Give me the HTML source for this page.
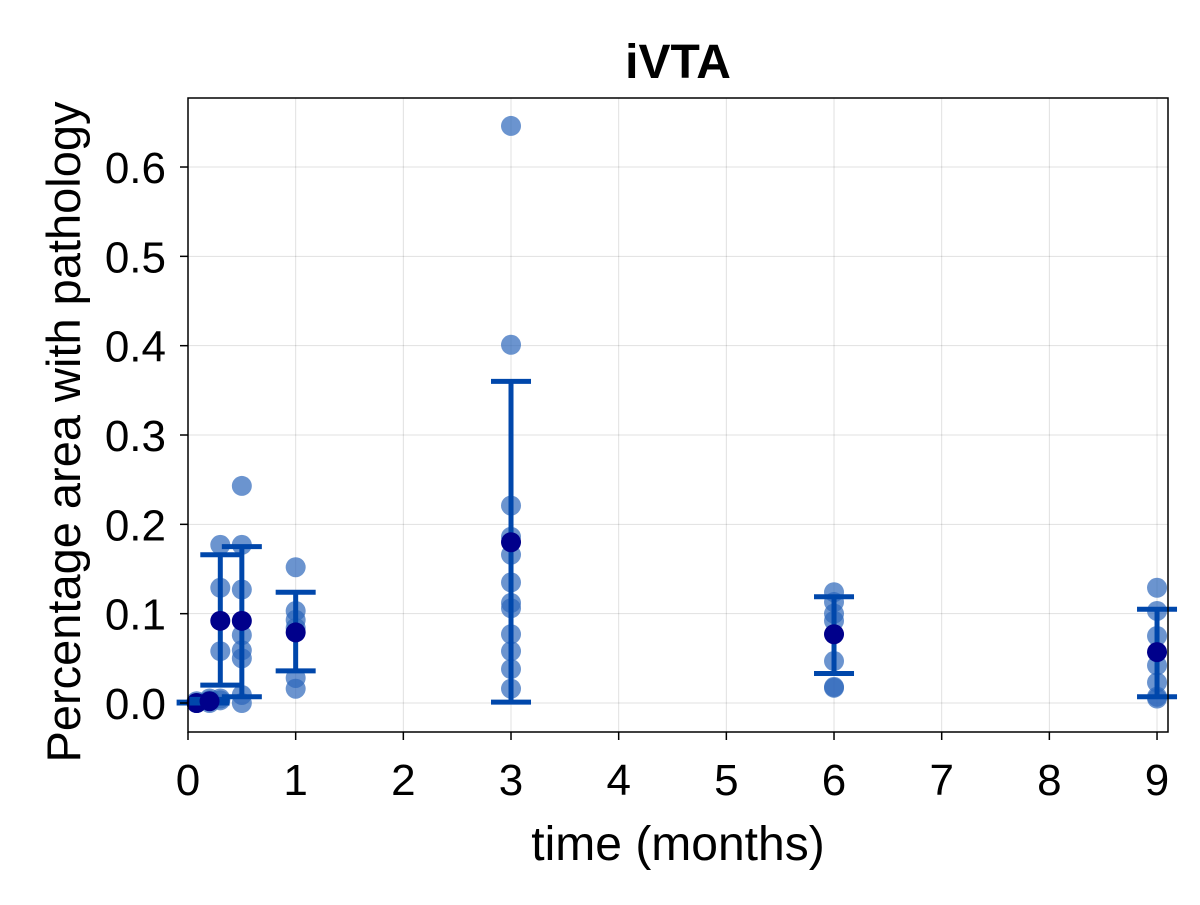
<!DOCTYPE html>
<html><head><meta charset="utf-8"><style>
html,body{margin:0;padding:0;background:#fff}
svg text{font-family:"Liberation Sans",sans-serif}
</style></head><body>
<svg id="chart" width="1200" height="900">
<rect x="0" y="0" width="1200" height="900" fill="#fff"/>
<g id="grid"></g><g id="marks"></g><g id="axes"></g>
<text x="678" y="78" text-anchor="middle" font-size="48" font-weight="bold">iVTA</text>
<text x="678" y="860" text-anchor="middle" font-size="48">time (months)</text>
<text transform="translate(80,432) rotate(-90)" text-anchor="middle" font-size="47">Percentage area with pathology</text>
</svg>
<script>
const times=[0.08,0.2,0.3,0.5,1,3,6,9];
const points=[
[0,0,0.002],
[0,0.003,0.005],
[0.177,0.129,0.058,0.003,0.005],
[0.243,0.177,0.127,0.076,0.059,0.05,0.009,0],
[0.152,0.103,0.093,0.084,0.028,0.016],
[0.646,0.401,0.221,0.186,0.166,0.135,0.112,0.106,0.077,0.058,0.038,0.016],
[0.124,0.113,0.1,0.092,0.047,0.018,0.017],
[0.129,0.103,0.075,0.042,0.023,0.007,0.005]];
const means=[0,0.002,0.092,0.092,0.079,0.18,0.077,0.057];
const errHi=[0.001,0.004,0.166,0.175,0.124,0.36,0.119,0.105];
const errLo=[0,0,0.020,0.007,0.036,0.001,0.033,0.007];
const xTicks=[0,1,2,3,4,5,6,7,8,9];
const yTicks=[0,0.1,0.2,0.3,0.4,0.5,0.6];
const L=188,R=1168,T=98,B=732;
const X=v=>188+v*107.67, Y=v=>703-v*893.3;
const NS="http://www.w3.org/2000/svg";
function mk(parent,tag,attrs){const e=document.createElementNS(NS,tag);for(const k in attrs)e.setAttribute(k,attrs[k]);document.getElementById(parent).appendChild(e);return e;}
xTicks.forEach(t=>{
 let g=mk('grid','line',{x1:X(t),x2:X(t),y1:T,y2:B,stroke:'#000','stroke-opacity':0.12,'stroke-width':1});
 
 
 let k=mk('axes','line',{x1:X(t),x2:X(t),y1:B,y2:B+8,stroke:'#000','stroke-width':1.5});
 
 
 let l=mk('axes','text',{x:X(t),y:B+63,'text-anchor':'middle','font-size':44});
 l.textContent=t;
 
 
});
yTicks.forEach(t=>{
 let g=mk('grid','line',{x1:L,x2:R,y1:Y(t),y2:Y(t),stroke:'#000','stroke-opacity':0.12,'stroke-width':1});
 
 
 let k=mk('axes','line',{x1:L-8,x2:L,y1:Y(t),y2:Y(t),stroke:'#000','stroke-width':1.5});
 
 
 let l=mk('axes','text',{x:L-22,y:Y(t)+16,'text-anchor':'end','font-size':44});
 l.textContent=t.toFixed(1);
 
 
});
let fr=mk('axes','rect',{x:L,y:T,width:R-L,height:B-T,fill:'none',stroke:'#000','stroke-width':1.5});


times.forEach((t,i)=>{
 points[i].forEach(v=>{
  let c=mk('marks','circle',{cx:X(t),cy:Y(v),r:10,fill:'#2c66bb','fill-opacity':0.7});
  
  
 });
});
times.forEach((t,i)=>{
 const x=X(t);
 let e=mk('marks','path',{d:`M${x},${Y(errHi[i])}V${Y(errLo[i])}M${x-20},${Y(errHi[i])}H${x+20}M${x-20},${Y(errLo[i])}H${x+20}`,stroke:'#0047ab','stroke-width':5,fill:'none'});
 
 
 let m=mk('marks','circle',{cx:x,cy:Y(means[i]),r:10,fill:'#00008b'});
 
 
});
</script>
</body></html>
